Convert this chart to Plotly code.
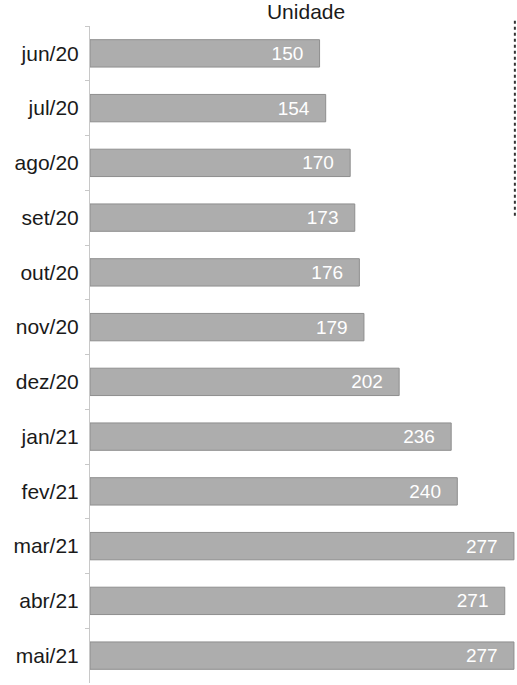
from plotly import graph_objects as go

meses = ['jun/20', 'jul/20', 'ago/20', 'set/20', 'out/20', 'nov/20',
         'dez/20', 'jan/21', 'fev/21', 'mar/21', 'abr/21', 'mai/21']
unidades = [150, 154, 170, 173, 176, 179, 202, 236, 240, 277, 271, 277]


fig = go.Figure()
fig.add_trace(go.Bar(y=meses, x=unidades, orientation='h',
                     marker=dict(color='#adadad', line=dict(color='#8e8e8e', width=1)),
                     text=[str(v) + '\u2002\u2009' for v in unidades],
                     textposition='inside', insidetextanchor='end',
                     textfont=dict(color='white', size=19, family='Liberation Sans')))

fig.update_layout(width=517, height=685,
                  margin=dict(l=90, r=0, t=26, b=2),
                  paper_bgcolor='white', plot_bgcolor='white',
                  bargap=0.5, showlegend=False,
                  font=dict(family='Liberation Sans', color='#1a1a1a', size=21),
                  title=dict(text='Unidade', xref='container', x=0.592, xanchor='center',
                             yref='container', y=0.993, yanchor='top',
                             font=dict(size=21, color='#1a1a1a')))
fig.update_xaxes(range=[0, 279], visible=False)
fig.update_yaxes(autorange='reversed', showline=True, linecolor='#c8c8c8', linewidth=1,
                 ticks='outside', ticklen=4, tickcolor='#c8c8c8', tickson='boundaries',
                 showgrid=False, ticklabelstandoff=6, automargin=False)

# tracejado escaneado na borda direita
fig.add_shape(type='line', xref='paper', yref='paper', x0=0.995, x1=0.995,
              y0=1.008, y1=0.71, line=dict(color='#333333', width=2, dash='dot'))

fig.write_html("out.html", config={'displayModeBar': False},
               post_script="document.body.style.margin='0';")
